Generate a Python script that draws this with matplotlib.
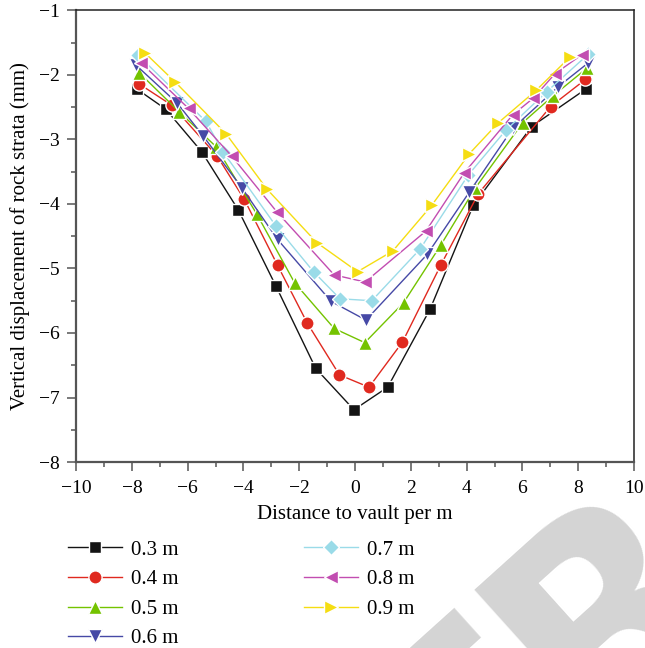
import matplotlib
matplotlib.use('Agg')
import matplotlib.pyplot as plt
from matplotlib.ticker import MultipleLocator
from matplotlib.textpath import TextPath
from matplotlib.font_manager import FontProperties
import numpy as np

plt.rcParams['font.family'] = ['Liberation Serif', 'DejaVu Serif']
plt.rcParams['axes.unicode_minus'] = True

# 不同测线到拱顶距离 (m) 及岩层竖向位移 (mm)
x_03 = [-7.82, -6.79, -5.50, -4.19, -2.84, -1.41, -0.04, 1.17, 2.69, 4.24, 6.33, 8.27]
y_03 = [-2.22, -2.53, -3.19, -4.09, -5.27, -6.55, -7.19, -6.84, -5.63, -4.02, -2.80, -2.22]

x_04 = [-7.74, -6.57, -4.94, -3.97, -2.78, -1.71, -0.56, 0.50, 1.70, 3.07, 4.42, 7.01, 8.26]
y_04 = [-2.14, -2.47, -3.26, -3.93, -4.95, -5.85, -6.65, -6.84, -6.14, -4.95, -3.84, -2.49, -2.07]

x_05 = [-7.73, -6.31, -4.99, -3.52, -2.17, -0.75, 0.35, 1.74, 3.07, 4.30, 6.01, 7.11, 8.30]
y_05 = [-1.97, -2.57, -3.11, -4.16, -5.22, -5.93, -6.15, -5.53, -4.64, -3.76, -2.74, -2.32, -1.90]

x_06 = [-7.85, -6.37, -5.44, -4.06, -2.78, -0.86, 0.39, 2.59, 4.09, 5.65, 7.29, 8.34]
y_06 = [-1.85, -2.44, -2.95, -3.75, -4.55, -5.51, -5.80, -4.78, -3.82, -2.83, -2.18, -1.82]

x_07 = [-7.79, -5.35, -4.72, -2.84, -1.49, -0.54, 0.60, 2.33, 4.06, 5.40, 6.87, 8.36]
y_07 = [-1.69, -2.72, -3.20, -4.34, -5.05, -5.47, -5.50, -4.70, -3.55, -2.86, -2.26, -1.68]

x_08 = [-7.68, -5.97, -4.42, -2.81, -0.75, 0.36, 2.54, 3.91, 5.65, 6.39, 7.17, 8.12]
y_08 = [-1.81, -2.52, -3.26, -4.12, -5.10, -5.21, -4.42, -3.52, -2.62, -2.36, -1.98, -1.69]

x_09 = [-7.53, -6.45, -4.63, -3.16, -1.37, 0.09, 1.35, 2.75, 4.10, 5.14, 6.49, 7.71]
y_09 = [-1.66, -2.11, -2.91, -3.77, -4.60, -5.05, -4.73, -4.02, -3.22, -2.74, -2.24, -1.72]

labels = ['0.3 m', '0.4 m', '0.5 m', '0.6 m', '0.7 m', '0.8 m', '0.9 m']
colors = ['#141414', '#e0291f', '#74c300', '#4649a6', '#9adbe8', '#c24db1', '#f5dd12']
markers = ['s', 'o', '^', 'v', 'D', '<', '>']
msizes = [9, 9.5, 10, 10, 8, 10, 10]

series = [(x_03, y_03), (x_04, y_04), (x_05, y_05), (x_06, y_06),
          (x_07, y_07), (x_08, y_08), (x_09, y_09)]

fig = plt.figure(figsize=(6.45, 6.48), dpi=100)
ax = fig.add_axes([0.118, 0.287, 0.865, 0.697])

for (xs, ys), lab, c, m, ms in zip(series, labels, colors, markers, msizes):
    ax.plot(xs, ys, '-', color=c, linewidth=1.0, marker=m, markersize=ms,
            markerfacecolor=c, markeredgecolor='white', markeredgewidth=1.0,
            label=lab)

ax.set_xlim(-10, 10)
ax.set_ylim(-8, -1)
ax.xaxis.set_major_locator(MultipleLocator(2))
ax.xaxis.set_minor_locator(MultipleLocator(1))
ax.yaxis.set_major_locator(MultipleLocator(1))
ax.yaxis.set_minor_locator(MultipleLocator(0.5))

for side in ['left', 'bottom']:
    ax.spines[side].set_color('#555555')
    ax.spines[side].set_linewidth(1.6)
for side in ['top', 'right']:
    ax.spines[side].set_color('#222222')
    ax.spines[side].set_linewidth(1.1)

ax.tick_params(which='major', direction='out', length=6.5, width=1.1, color='#555555',
               labelsize=14)
ax.tick_params(which='minor', direction='out', length=3.3, width=1.1, color='#555555')
ax.tick_params(axis='x', which='major', pad=6.5)
ax.tick_params(axis='y', which='major', pad=5.5)

ax.set_xlabel('Distance to vault per m', fontsize=15)
ax.set_ylabel('Vertical displacement of rock strata (mm)', fontsize=15)
ax.xaxis.set_label_coords(0.5, -0.095)
ax.yaxis.set_label_coords(-0.082, 0.5)

fig.legend(loc='upper left', bbox_to_anchor=(0.1054, 0.1666), ncol=2, frameon=False,
           fontsize=15, handlelength=2.6, handletextpad=0.43, columnspacing=6.0,
           labelspacing=0.48, borderpad=0, borderaxespad=0)

# 斜向水印: 让第二个 R 的左上角落在指定像素位置
wm_text = 'RETRACTED'
wm_size = 200
wm_ang = 42
wm_prop = FontProperties(family='DejaVu Sans', weight='bold', size=wm_size)
p_ret = TextPath((0, 0), 'RET', prop=wm_prop).vertices
p_retr = TextPath((0, 0), 'RETR', prop=wm_prop).vertices
r2 = p_retr[len(p_ret):]
pt2px = fig.dpi / 72
shift = r2[:, 0].min() * pt2px
cap = r2[:, 1].max() * pt2px
u = np.array([np.cos(np.radians(wm_ang)), np.sin(np.radians(wm_ang))])
n = np.array([-u[1], u[0]])
corner = np.array([450.0, 58.0])
anchor = corner - shift * u - cap * n
fig.text(anchor[0] / (fig.dpi * 6.45), anchor[1] / (fig.dpi * 6.48), wm_text,
         fontproperties=wm_prop, color='#d4d4d4',
         rotation=wm_ang, rotation_mode='anchor', ha='left', va='baseline', zorder=-1)

fig.savefig('out.png', dpi=100)
